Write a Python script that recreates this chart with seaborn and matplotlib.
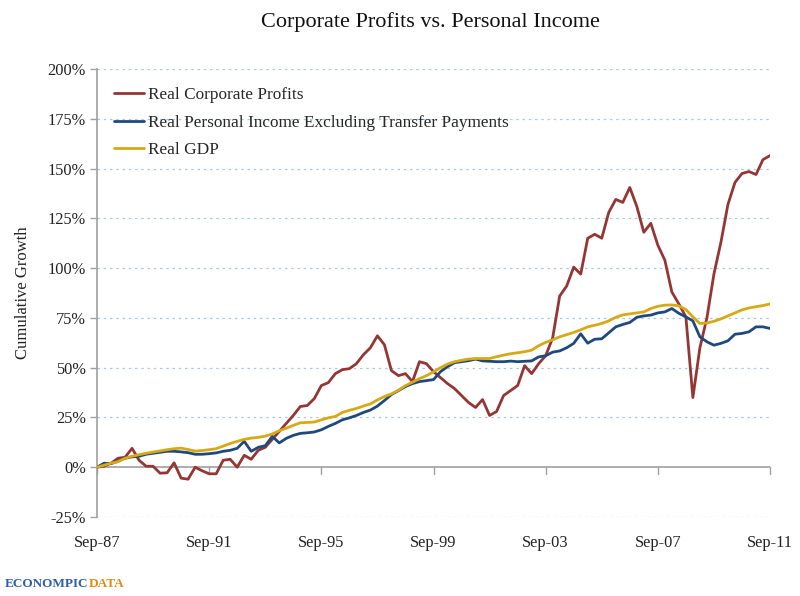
import numpy as np
import pandas as pd
import matplotlib
matplotlib.use("Agg")
import matplotlib.pyplot as plt
import seaborn as sns
from matplotlib.lines import Line2D

# ---- data (quarterly, Sep-87 .. Sep-11), cumulative growth in % ----
profits = [0, 0.5, 2, 4.5, 5, 9.5, 3.5, 0.5, 0.5, -3, -2.8, 2.2, -5.5, -6, 0,
           -1.8, -3.3, -3.3, 3.5, 4, 0, 6, 4, 8.5, 10, 14, 18, 22, 26, 30.5,
           31, 34.5, 41, 42.5, 47, 49, 49.5, 52, 56.5, 60, 66, 61.5, 48.5, 46,
           47, 43, 53, 52, 48, 45, 42, 39.5, 36, 32.5, 30, 34, 26, 28, 36,
           38.5, 41, 51, 47, 52, 56, 65, 86, 91, 100.5, 97, 115, 117, 115, 128,
           134.5, 133, 140.5, 131, 118, 122.5, 111.5, 104, 88, 82, 75.5, 35, 60,
           75, 97, 113, 132, 143, 147.5, 148.5, 147, 154.5, 156.5]
income = [0, 2, 1.8, 3, 4.5, 5.2, 5.5, 6.5, 7, 7.5, 8, 8, 7.7, 7.3, 6.5, 6.5,
          6.8, 7.2, 8, 8.5, 9.5, 13, 8, 10, 10.8, 15.5, 12.2, 14.5, 16, 17,
          17.3, 17.7, 18.8, 20.5, 22, 23.8, 24.8, 26, 27.5, 28.7, 30.7, 33.5,
          36.5, 38.5, 40.5, 42, 43, 43.5, 44, 48, 50.5, 52.5, 53, 53.5, 54.3,
          53.4, 53.2, 53, 53, 53.3, 53, 53.2, 53.4, 55.4, 56, 57.8, 58.4, 60,
          62.2, 67, 62.3, 64.3, 64.5, 67.5, 70.5, 71.7, 72.7, 75.3, 76, 76.4,
          77.5, 78, 79.7, 77.3, 75.5, 73.5, 65.5, 63, 61.3, 62.2, 63.5, 66.8,
          67.2, 68, 70.5, 70.5, 69.7]
gdp = [0, 1, 2, 2.8, 4.5, 5.5, 6.3, 7, 7.6, 8.2, 8.8, 9.3, 9.6, 8.9, 8.1, 8.4,
       8.8, 9.3, 10.6, 11.9, 13, 14, 14.6, 15, 15.6, 16.7, 18.3, 19.6, 21,
       22.3, 22.5, 22.7, 23.8, 24.8, 25.5, 27.5, 28.6, 29.5, 30.7, 31.8, 33.8,
       35.5, 36.8, 38.7, 41, 42.7, 44.5, 46, 47.9, 50, 51.8, 53, 53.7, 54.3,
       54.6, 54.6, 54.6, 55.5, 56.3, 57, 57.5, 58, 58.8, 61, 62.7, 64, 65.5,
       66.6, 67.7, 69, 70.5, 71.3, 72.2, 73.5, 75.3, 76.5, 77, 77.5, 78, 79.7,
       80.8, 81.4, 81.5, 81, 79.2, 75.5, 72.2, 72.4, 73.3, 74.5, 76, 77.5, 79,
       80, 80.6, 81.2, 82]
series_names = ["Real Corporate Profits",
                "Real Personal Income Excluding Transfer Payments",
                "Real GDP"]
tick_labels = ["Sep-87", "Sep-91", "Sep-95", "Sep-99", "Sep-03", "Sep-07", "Sep-11"]
y_ticks = [-25, 0, 25, 50, 75, 100, 125, 150, 175, 200]

colors = ["#943634", "#1F497D", "#D6A915"]

n = len(profits)
quarter = np.arange(n)
df = pd.concat([
    pd.DataFrame({"q": quarter, "v": profits, "s": series_names[0]}),
    pd.DataFrame({"q": quarter, "v": income, "s": series_names[1]}),
    pd.DataFrame({"q": quarter, "v": gdp, "s": series_names[2]}),
])

sns.set_style("white")
plt.rcParams["font.family"] = ["Liberation Serif", "DejaVu Serif"]

fig = plt.figure(figsize=(8, 5.96), dpi=100)
ax = fig.add_axes([97 / 800, 1 - 517 / 596, (770 - 97) / 800, (517 - 69) / 596])

# grid
for yv in y_ticks:
    if yv != 0:
        ax.axhline(yv, color="#A8CBE0", lw=0.9, ls=(0, (2, 3)), zorder=0)
ax.axhline(0, color="#A0A0A0", lw=1.2, zorder=1)

sns.lineplot(data=df, x="q", y="v", hue="s", palette=colors, lw=2.0,
             ax=ax, legend=False, zorder=3)

ax.set_xlim(0, n - 1)
ax.set_ylim(-25, 200)
ax.set_yticks(y_ticks)
ax.set_yticklabels([f"{v}%" for v in y_ticks])
ax.set_xticks(np.arange(0, n, 16))
ax.set_xticklabels(tick_labels)
ax.tick_params(axis="x", length=0, pad=13, labelsize=11.8, colors="#222222")
ax.tick_params(axis="y", length=5, width=1, color="#A0A0A0", pad=3,
               labelsize=11.8, left=True)
for lab in ax.get_yticklabels():
    lab.set_color("#222222")
for s in ["top", "right", "bottom"]:
    ax.spines[s].set_visible(False)
ax.spines["left"].set_color("#A0A0A0")
ax.spines["left"].set_linewidth(1.2)

# small ticks on zero line
for xt in np.arange(0, n, 16):
    ax.plot([xt, xt], [0, -3.5], color="#A0A0A0", lw=1.0, zorder=1, clip_on=False)

ax.set_xlabel("")
ax.set_ylabel("Cumulative Growth", fontsize=12, color="#222222", labelpad=12)

# legend
handles = [Line2D([0], [0], color=c, lw=2.0) for c in colors]
ax.legend(handles, series_names, loc="upper left", bbox_to_anchor=(0.002, 0.995),
          frameon=False, fontsize=12.4, handlelength=1.75, handletextpad=0.25,
          labelspacing=0.68)

fig.text(430 / 800, 1 - 22 / 596, "Corporate Profits vs. Personal Income",
         ha="center", va="center", fontsize=16, color="#111111")

# logo text
t1 = fig.text(5 / 800, 1 - 584 / 596, "ECONOMPIC", ha="left", va="center",
              fontsize=9.5, fontweight="bold", color="#2C5FA8")
fig.canvas.draw()
bb = t1.get_window_extent(renderer=fig.canvas.get_renderer())
fig.text(bb.x1 / 800 + 0.5 / 800, 1 - 584 / 596, "DATA", ha="left", va="center",
         fontsize=9.5, fontweight="bold", color="#E08A12")

fig.savefig("out.png", dpi=100)
